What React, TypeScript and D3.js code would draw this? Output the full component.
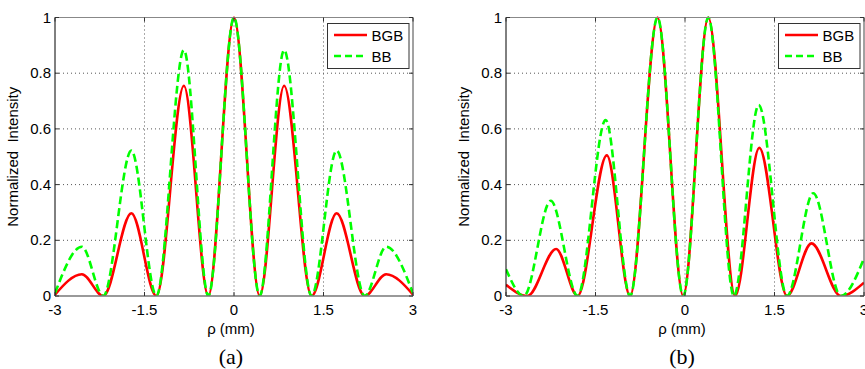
import React from 'react';
import * as d3 from 'd3';

// axis ticks
const xTicks = [-3, -1.5, 0, 1.5, 3];
const yTicks = [0, 0.2, 0.4, 0.6, 0.8, 1];
const seriesNames = ['BGB', 'BB'];

// panel (a): peaks and zeros
const aRho = [-3, -2.55, -2.19, -1.72, -1.3, -0.84, -0.43, 0, 0.43, 0.84, 1.3, 1.72, 2.19, 2.55, 3];
const aBGB = [0.005, 0.078, 0, 0.297, 0, 0.755, 0, 1, 0, 0.755, 0, 0.297, 0, 0.078, 0.005];
const aBB = [0.01, 0.177, 0, 0.522, 0, 0.883, 0, 1, 0, 0.883, 0, 0.522, 0, 0.177, 0.01];

// panel (b)
const bRhoBGB = [-3, -2.64, -2.16, -1.8, -1.31, -0.92, -0.46, -0.03, 0.39, 0.84, 1.245, 1.71, 2.12, 2.61, 3];
const bBGB = [0.04, 0, 0.169, 0, 0.505, 0, 1, 0, 1, 0, 0.532, 0, 0.189, 0, 0.048];
const bRhoBB = [-3, -2.7, -2.25, -1.8, -1.33, -0.92, -0.46, -0.03, 0.39, 0.82, 1.235, 1.71, 2.15, 2.61, 3];
const bBB = [0.096, 0, 0.342, 0, 0.632, 0, 1, 0, 1, 0, 0.686, 0, 0.369, 0, 0.135];

const W = 865, H = 369;
const top = 17.5, bottom = 296, plotW = 358;
const font = '"Liberation Sans", Arial, sans-serif';
const RED = '#ff0000', GREEN = '#00ff00';

type Props = {
  id: string,
  left: number,
  caption: string,
  red: [number[], number[]],
  green: [number[], number[]],
};

function Panel({ id, left, caption, red, green }: Props) {
  const x = d3.scaleLinear().domain([-3, 3]).range([left, left + plotW]);
  const y = d3.scaleLinear().domain([0, 1]).range([bottom, top]);
  const line = d3.line<[number, number]>()
    .x(d => x(d[0]))
    .y(d => y(d[1]))
    .curve(d3.curveMonotoneX);
  const pts = (s: [number[], number[]]) => s[0].map((v, i) => [v, s[1][i]] as [number, number]);
  const right = left + plotW;
  const midX = x(0) - 3;
  const midY = (top + bottom) / 2;

  // legend box
  const lgX = right - 85.5, lgY = 23.5, lgW = 81.5, lgH = 45;

  return (
    <g>
      <defs>
        <clipPath id={'clip' + id}>
          <rect x={left} y={top - 2} width={plotW} height={bottom - top + 2} />
        </clipPath>
      </defs>
      <rect x={left} y={top} width={plotW} height={bottom - top} fill="#fff" />
      {/* grid */}
      {xTicks.slice(1, -1).map(t => (
        <line key={'gx' + t} x1={x(t)} x2={x(t)} y1={top} y2={bottom}
          stroke="#555" strokeWidth={1} strokeDasharray="1,3" />
      ))}
      {yTicks.slice(1, -1).map(t => (
        <line key={'gy' + t} x1={left} x2={right} y1={y(t)} y2={y(t)}
          stroke="#555" strokeWidth={1} strokeDasharray="1,3" />
      ))}
      {/* curves */}
      <g clipPath={`url(#clip${id})`}>
        <path d={line(pts(red)) || ''} fill="none" stroke={RED} strokeWidth={2.6} />
        <path d={line(pts(green)) || ''} fill="none" stroke={GREEN} strokeWidth={2.6}
          strokeDasharray="8,4" />
      </g>
      {/* box */}
      <line x1={left} x2={right} y1={top} y2={top} stroke="#888" strokeWidth={1} />
      <line x1={right} x2={right} y1={top} y2={bottom} stroke="#444" strokeWidth={1} />
      <line x1={left} x2={right} y1={bottom} y2={bottom} stroke="#777" strokeWidth={1.5} />
      <line x1={left} x2={left} y1={top} y2={bottom} stroke="#000" strokeWidth={1} />
      {/* ticks */}
      {xTicks.map(t => (
        <g key={'tx' + t}>
          <line x1={x(t)} x2={x(t)} y1={bottom} y2={bottom - 4} stroke="#333" />
          <line x1={x(t)} x2={x(t)} y1={top} y2={top + 4} stroke="#333" />
          <text x={x(t)} y={314.5} textAnchor="middle" fontSize={15} fontFamily={font}>{String(t)}</text>
        </g>
      ))}
      {yTicks.map(t => (
        <g key={'ty' + t}>
          <line x1={left} x2={left + 4} y1={y(t)} y2={y(t)} stroke="#333" />
          <line x1={right} x2={right - 4} y1={y(t)} y2={y(t)} stroke="#333" />
          <text x={left - 4} y={y(t) + 5} textAnchor="end" fontSize={15} fontFamily={font}>{String(t)}</text>
        </g>
      ))}
      {/* axis labels */}
      <text x={midX} y={334} textAnchor="middle" fontSize={15} fontFamily={font}>ρ (mm)</text>
      <text transform={`translate(${left - 37},${midY}) rotate(-90)`} textAnchor="middle"
        fontSize={15} fontFamily={font} style={{ whiteSpace: 'pre' }}>{'Normalized  Intensity'}</text>
      <text x={midX} y={364} textAnchor="middle" fontSize={22}
        fontFamily='"Liberation Serif", "Times New Roman", serif'>{caption}</text>
      {/* legend */}
      <rect x={lgX} y={lgY} width={lgW} height={lgH} fill="#fff" stroke="#333" strokeWidth={1} />
      {seriesNames.map((n, i) => (
        <g key={n}>
          <line x1={lgX + 6.5} x2={lgX + 39.5} y1={lgY + 11.5 + i * 21} y2={lgY + 11.5 + i * 21}
            stroke={i === 0 ? RED : GREEN} strokeWidth={2.6}
            strokeDasharray={i === 0 ? undefined : '7,4'} />
          <text x={lgX + 44} y={lgY + 17 + i * 21} fontSize={15} fontFamily={font}>{n}</text>
        </g>
      ))}
    </g>
  );
}

export default function App() {
  return (
    <svg width={W} height={H} style={{ position: 'absolute', left: 0, top: 0, background: '#fff' }}>
      <rect width={W} height={H} fill="#fff" />
      <Panel id="a" left={55} caption="(a)" red={[aRho, aBGB]} green={[aRho, aBB]} />
      <Panel id="b" left={506} caption="(b)" red={[bRhoBGB, bBGB]} green={[bRhoBB, bBB]} />
    </svg>
  );
}
